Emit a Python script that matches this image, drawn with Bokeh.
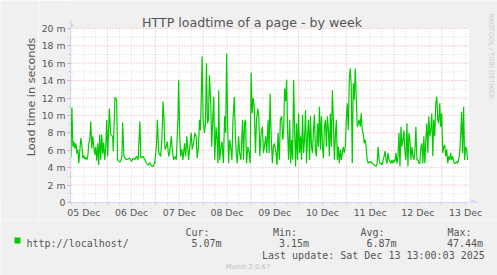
import math
from bokeh.plotting import figure
from bokeh.layouts import row, column
from bokeh.models import FixedTicker, Label, Arrow, NormalHead, BoxAnnotation, Range1d
from bokeh.embed import file_html
from bokeh.resources import INLINE

# ---- data: hours since 05 Dec 00:00, load time in milliseconds ----
hours = [5.5, 6.0, 6.5, 7.0, 7.5, 8.0, 8.5, 9.0, 9.5, 10.0, 10.5, 11.0, 11.5, 12.0, 12.5,
         13.0, 13.5, 14.0, 14.5, 15.0, 15.5, 16.0, 16.5, 17.0, 17.5, 18.0, 18.5, 19.0, 19.5,
         20.0, 20.5, 21.0, 21.5, 22.0, 22.5, 23.0, 23.5, 24.0,
         24.83, 25.5, 26.5,
         26.83, 27.67, 28.5, 29.0, 29.83, 30.5, 31.17, 31.5, 32.17, 33.5, 35.17, 36.0, 36.83,
         37.67, 38.5, 39.33, 40.17, 40.67, 41.83, 42.67, 43.5, 44.33, 45.17, 46.0, 46.83,
         47.67, 48.5, 49.0, 49.67, 50.67, 51.33, 51.83, 52.33, 52.83, 53.5, 54.0, 54.67,
         55.17, 56.0, 56.5, 57.17, 57.83, 58.5, 59.33, 59.67, 60.17, 60.67, 61.33, 61.83,
         62.67, 63.17, 63.83, 64.67, 65.17, 66.0, 66.5, 67.17, 67.83, 68.5, 69.0, 69.67,
         70.17, 70.67, 71.5, 72.0, 72.67, 73.17, 73.67, 74.17, 74.67, 75.17, 75.83, 76.33,
         76.83, 77.33, 77.83, 78.5, 79.0, 79.5, 79.83, 80.33, 81.0, 81.5, 82.17, 82.83,
         83.33, 83.83, 84.33, 84.83, 85.33, 86.0, 86.5, 87.0, 87.67, 88.17, 88.67, 89.17,
         89.83, 90.33, 91.0, 91.83, 92.33, 92.83, 93.33, 93.83, 94.5, 95.17, 95.67, 96.17,
         96.67, 97.17, 97.67, 98.33, 98.83, 99.5, 100.0, 100.5, 101.17, 101.83, 102.33,
         102.83, 103.5, 104.0, 104.67, 105.17, 105.67, 106.17, 106.83, 107.33, 107.83,
         108.67, 109.17, 109.67, 110.33, 110.83, 111.5, 112.0, 112.5, 113.0, 113.5, 114.0,
         114.5, 115.0, 115.5, 116.0, 116.5, 117.0, 117.5, 118.0, 118.5, 119.0, 119.5, 120.0,
         120.5, 121.0, 121.5, 122.0, 122.5, 123.0, 123.5, 124.0, 124.5, 125.0, 125.5, 126.0,
         126.5, 127.0, 127.5, 128.0, 128.5, 129.0, 129.5, 130.0, 130.5, 131.0, 131.5, 132.0,
         132.5, 133.0, 133.5, 134.0, 134.5, 135.0, 135.5, 136.0, 136.5, 137.0, 137.5, 138.0,
         138.5, 139.0, 139.5, 140.0, 140.5, 141.0, 141.5, 142.0, 142.5, 143.0, 143.5, 144.0,
         144.5, 145.0, 145.5, 146.0, 146.5, 147.0, 147.5, 148.0, 148.5, 149.0, 149.5, 150.0,
         150.5, 151.0, 151.5, 152.0, 152.5, 153.0, 153.5, 154.0, 154.5, 155.0, 155.5, 156.0,
         156.5, 157.0, 157.5, 158.0, 158.5, 159.0, 159.5, 160.0, 160.5, 161.0, 161.5, 162.0,
         162.5, 163.0, 163.5, 164.0, 164.5, 165.0, 165.5, 166.0, 166.5, 167.0, 167.5, 168.0,
         168.5, 169.0, 169.5, 170.0, 170.5, 171.0, 171.5, 172.0, 172.5, 173.0, 173.5, 174.0,
         174.5, 175.0, 175.5, 176.0, 176.5, 177.0, 177.5, 178.0, 178.5, 179.0, 179.5, 180.0,
         180.5, 181.0, 181.5, 182.0, 182.5, 183.0, 183.5, 184.0, 184.5, 185.0, 185.5, 186.0,
         186.5, 187.0, 187.5, 188.0, 188.5, 189.0, 189.5, 190.0, 190.5, 191.0, 191.5, 192.0,
         192.5, 193.0, 193.5, 194.0, 194.5, 195.0, 195.5, 196.0, 196.5, 197.0, 197.5, 198.0,
         198.5, 199.0, 199.5, 200.0, 200.5, 201.0, 201.5, 202.0, 202.5, 203.0, 203.5, 204.0,
         204.5, 205.0]
load_ms = [5.2, 10.9, 6.4, 7.0, 6.2, 6.8, 5.6, 6.1, 4.5, 6.0, 7.4, 6.6, 5.1, 5.4, 5.0,
           5.2, 4.9, 5.3, 6.8, 7.2, 9.3, 6.2, 7.6, 6.4, 5.5, 6.4, 4.8, 6.8, 4.3,
           7.8, 4.9, 7.8, 5.6, 6.9, 4.9, 6.2, 9.5, 5.3,
           10.8, 7.8, 7.6,
           5.9, 12.1, 11.8, 4.9, 4.7, 4.7, 5.3, 9.2, 5.3, 4.9, 5.1, 4.7, 5.1,
           4.9, 5.3, 4.9, 9.3, 5.1, 5.3, 4.9, 4.5, 4.3, 4.6, 4.2, 4.15,
           4.5, 6.4, 9.5, 5.7, 5.3, 7.6, 11.6, 9.5, 6.1, 6.4, 7.0, 5.3,
           5.7, 7.6, 6.1, 4.9, 5.3, 4.9, 9.5, 14.1, 8.3, 5.3, 6.1, 4.9,
           6.8, 5.3, 7.6, 4.9, 6.1, 8.0, 6.1, 6.8, 8.0, 7.6, 5.1, 6.4,
           9.5, 8.3, 16.8, 9.5, 8.0, 9.1, 16.0, 9.1, 9.5, 14.6, 11.4, 6.4,
           9.5, 12.15, 4.9, 8.7, 7.2, 4.5, 12.9, 4.9, 6.4, 7.0, 4.5, 9.9,
           8.0, 17.1, 8.7, 4.5, 7.2, 6.1, 4.9, 9.5, 12.15, 8.0, 5.7, 4.5,
           7.6, 5.7, 4.9, 9.5, 4.9, 9.1, 9.5, 4.5, 6.4, 5.7, 4.5, 14.9,
           10.25, 12.0, 11.0, 5.7, 9.5, 10.8, 9.9, 5.3, 8.0, 8.7, 5.7,
           6.4, 7.6, 5.7, 9.5, 5.7, 12.5, 8.0, 4.5, 6.4, 6.8,
           5.7, 4.3, 8.0, 4.9, 9.5, 9.9, 7.2, 8.3, 13.1, 11.6, 14.1,
           8.0, 4.9, 9.5, 4.5, 7.2, 4.9, 14.1, 8.3, 4.15, 9.1, 4.9, 10.25,
           5.7, 7.6, 4.9, 10.1, 5.7, 7.2, 10.6, 4.5, 7.6, 9.5, 4.9, 9.9,
           6.4, 5.7, 8.3, 10.1, 5.9, 5.3, 9.1, 6.4, 11.0, 6.1, 9.9, 6.4,
           5.1, 8.7, 9.5, 6.4, 9.9, 8.3, 5.3, 10.25, 6.4, 12.9, 9.5, 4.9,
           7.6, 9.5, 4.9, 6.4, 4.5, 6.1, 4.9, 5.7, 6.4, 5.7, 6.4, 9.5,
           11.4, 8.3, 14.1, 15.4, 13.3, 4.5, 13.7, 11.8, 15.4, 12.15, 8.7, 9.1,
           9.5, 8.7, 10.25, 8.3, 8.0, 6.8, 7.2, 6.4, 4.9, 4.5, 4.7, 4.6,
           4.7, 4.5, 4.46, 4.34, 4.23, 4.15, 4.5, 6.4, 4.9, 4.5, 4.46, 4.34,
           4.9, 5.3, 5.9, 4.9, 4.5, 5.7, 4.9, 4.7, 4.5, 4.9, 4.5, 4.9,
           4.7, 5.7, 4.5, 5.3, 8.0, 4.15, 8.7, 6.4, 7.2, 8.3, 5.7, 4.9,
           9.1, 4.15, 8.0, 7.2, 4.9, 6.4, 5.3, 4.9, 5.9, 8.7, 4.9, 4.9,
           4.5, 4.5, 6.4, 6.8, 4.5, 7.6, 4.5, 7.2, 9.1, 5.7, 9.9, 7.6,
           8.3, 10.25, 5.3, 9.5, 7.6, 11.4, 12.15, 9.5, 9.1, 11.4, 8.7, 10.25,
           5.7, 6.4, 6.6, 5.3, 6.1, 4.5, 5.3, 4.9, 5.7, 4.9, 5.3, 4.7,
           4.5, 4.5, 4.7, 4.5, 4.9, 5.7, 7.6, 10.4, 5.7, 11.0, 4.9, 6.4,
           6.1, 4.9]

day_label_hours = [12, 36, 60, 84, 108, 132, 156, 180, 204]
day_labels = ["05 Dec", "06 Dec", "07 Dec", "08 Dec", "09 Dec", "10 Dec", "11 Dec", "12 Dec", "13 Dec"]
midnight_hours = [24, 48, 72, 96, 120, 144, 168, 192]
six_hour_ticks = [6 * k for k in range(1, 35)]
y_major = [0, 2, 4, 6, 8, 10, 12, 14, 16, 18, 20]
y_minor = [1, 3, 5, 7, 9, 11, 13, 15, 17, 19]
y_labels = ["0", "2 m", "4 m", "6 m", "8 m", "10 m", "12 m", "14 m", "16 m", "18 m", "20 m"]

title_text = "HTTP loadtime of a page - by week"
y_title = "Load time in seconds"
series_name = "http://localhost/"
stat_heads = ["Cur:", "Min:", "Avg:", "Max:"]
stat_values = ["5.07m", "3.15m", "6.87m", "47.44m"]
last_update = "Last update: Sat Dec 13 13:00:03 2025"
watermark = "Munin 2.0.67"
side_mark = "RRDTOOL / TOBI OETIKER"

# ---- layout constants (pixels) ----
W, H = 497, 275
LEFT_W = 38            # strip holding the vertical axis title
MAIN_H = 220           # main figure height
FL, FB = 67, 203       # frame left / bottom in window pixels
PX_PER_H = 2.0024
PX_PER_M = 8.75
X_LO, X_HI = 5.3, 205.6          # time span of the chart canvas
Y_LO, Y_HI = 0, 20
TXT = "#555555"
AXIS = "#cfd6f8"
GRID = "#d8d8d8"
MGRID = "#eea0a0"
BG = "#f0f0f0"
MONO = "DejaVu Sans Mono"

x_view_hi = X_LO + (W - FL) / PX_PER_H
y_view_hi = FB / PX_PER_M

p = figure(width=W - LEFT_W, height=MAIN_H, output_backend="svg", toolbar_location=None,
           x_range=Range1d(X_LO, x_view_hi), y_range=Range1d(Y_LO, y_view_hi),
           min_border_left=FL - LEFT_W, min_border_right=0, min_border_top=0,
           min_border_bottom=MAIN_H - FB)
p.background_fill_color = BG
p.border_fill_color = BG
p.outline_line_color = None
p.xgrid.visible = False
p.ygrid.visible = False

# white chart canvas
p.add_layout(BoxAnnotation(left=X_LO, right=X_HI, bottom=Y_LO, top=Y_HI,
                           fill_color="#ffffff", fill_alpha=1.0, line_color=None,
                           level="image"))

# grid lines (minor grey, major red), bounded to the chart canvas
xs_minor = [h for h in six_hour_ticks if h not in midnight_hours]
p.segment(x0=xs_minor, y0=[Y_LO] * len(xs_minor), x1=xs_minor, y1=[Y_HI] * len(xs_minor),
          line_color=GRID, line_width=1, line_dash="1 2", level="underlay")
p.segment(x0=[X_LO] * len(y_minor), y0=y_minor, x1=[X_HI] * len(y_minor), y1=y_minor,
          line_color=GRID, line_width=1, line_dash="1 2", level="underlay")
p.segment(x0=midnight_hours, y0=[Y_LO] * len(midnight_hours), x1=midnight_hours,
          y1=[Y_HI] * len(midnight_hours),
          line_color=MGRID, line_width=1, line_dash="1 2", level="underlay")
ym = y_major[1:]
p.segment(x0=[X_LO] * len(ym), y0=ym, x1=[X_HI] * len(ym), y1=ym,
          line_color=MGRID, line_width=1, line_dash="1 2", level="underlay")

# axes
xa = p.xaxis[0]
xa.bounds = (X_LO, X_HI)
xa.ticker = FixedTicker(ticks=day_label_hours, minor_ticks=six_hour_ticks)
xa.major_label_overrides = {h: t for h, t in zip(day_label_hours, day_labels)}
xa.axis_line_color = AXIS
xa.major_tick_line_color = "#cccccc"
xa.minor_tick_line_color = "#cccccc"
xa.major_tick_in = 0
xa.major_tick_out = 2
xa.minor_tick_in = 0
xa.minor_tick_out = 2
xa.major_label_standoff = 2
xa.major_label_text_font = "DejaVu Sans"
xa.major_label_text_font_size = "9.4px"
xa.major_label_text_color = TXT

ya = p.yaxis[0]
ya.bounds = (Y_LO, Y_HI)
ya.ticker = FixedTicker(ticks=y_major, minor_ticks=y_minor)
ya.major_label_overrides = {v: t for v, t in zip(y_major, y_labels)}
ya.axis_line_color = AXIS
ya.major_tick_line_color = MGRID
ya.minor_tick_line_color = "#cccccc"
ya.major_tick_in = 0
ya.major_tick_out = 3
ya.minor_tick_in = 0
ya.minor_tick_out = 2
ya.major_label_standoff = 2
ya.major_label_text_font = "DejaVu Sans"
ya.major_label_text_font_size = "9.3px"
ya.major_label_text_color = TXT

# data line
p.line(hours, load_ms, line_color="#00cc00", line_width=1.2)

# axis arrows
p.add_layout(Arrow(x_start=0, y_start=0, x_end=0, y_end=FB - 21,
                   start_units="screen", end_units="screen",
                   line_color=AXIS, line_width=1,
                   end=NormalHead(size=6, fill_color=AXIS, line_color=AXIS)))
p.add_layout(Arrow(x_start=0, y_start=0, x_end=474 - FL, y_end=0,
                   start_units="screen", end_units="screen",
                   line_color=AXIS, line_width=1,
                   end=NormalHead(size=6, fill_color=AXIS, line_color=AXIS)))


def put(fig, ox, oy, cx, cy, text, size, color=TXT, font="DejaVu Sans", align="left",
        baseline="alphabetic", angle=0.0):
    """Place a label at window pixel (cx, cy); (ox, oy) = frame bottom-left in window px."""
    fig.add_layout(Label(x=cx - ox, y=oy - cy, x_units="screen", y_units="screen",
                         text=text, text_font=font, text_font_size=size,
                         text_color=color, text_align=align, text_baseline=baseline,
                         angle=angle))


put(p, FL, FB, 248.5, 22.5, title_text, "12.6px", align="center")
put(p, FL, FB, 487, 56.5, side_mark, "6.6px", color="#c8c8c8", align="center",
    baseline="middle", angle=-math.pi / 2)


def blank(w, h):
    f = figure(width=w, height=h, output_backend="svg", toolbar_location=None,
               x_axis_type=None, y_axis_type=None, x_range=Range1d(0, 1), y_range=Range1d(0, 1),
               min_border=0, min_border_left=0, min_border_right=0,
               min_border_top=0, min_border_bottom=0)
    f.background_fill_color = BG
    f.border_fill_color = BG
    f.outline_line_color = None
    f.xgrid.visible = False
    f.ygrid.visible = False
    return f


left = blank(LEFT_W, MAIN_H)
put(left, 0, MAIN_H, 30.5, 114.5, y_title, "11.2px", align="center", baseline="middle",
    angle=math.pi / 2)

leg = blank(W, H - MAIN_H)
head_x = [185, 272.5, 360, 447]
val_x = [191, 278.5, 366, 446.5]
for hx, t in zip(head_x, stat_heads):
    put(leg, 0, H, hx, 231.7, t, "10px", font=MONO)
for vx, t in zip(val_x, stat_values):
    put(leg, 0, H, vx, 242.7, t, "10px", font=MONO)
put(leg, 0, H, 26, 242.7, series_name, "10px", font=MONO)
put(leg, 0, H, 261.5, 255, last_update, "10px", font=MONO)
put(leg, 0, H, 247.5, 266.7, watermark, "6.8px", color="#c0c0c0", align="center")
leg.add_layout(BoxAnnotation(left=14, right=20, top=H - 237, bottom=H - 243,
                             left_units="screen", right_units="screen",
                             top_units="screen", bottom_units="screen",
                             fill_color="#00cc00", fill_alpha=1.0, line_color=None))

layout = column(row(left, p, spacing=0), leg, spacing=0)
open("out.html", "w").write(file_html(layout, INLINE))
